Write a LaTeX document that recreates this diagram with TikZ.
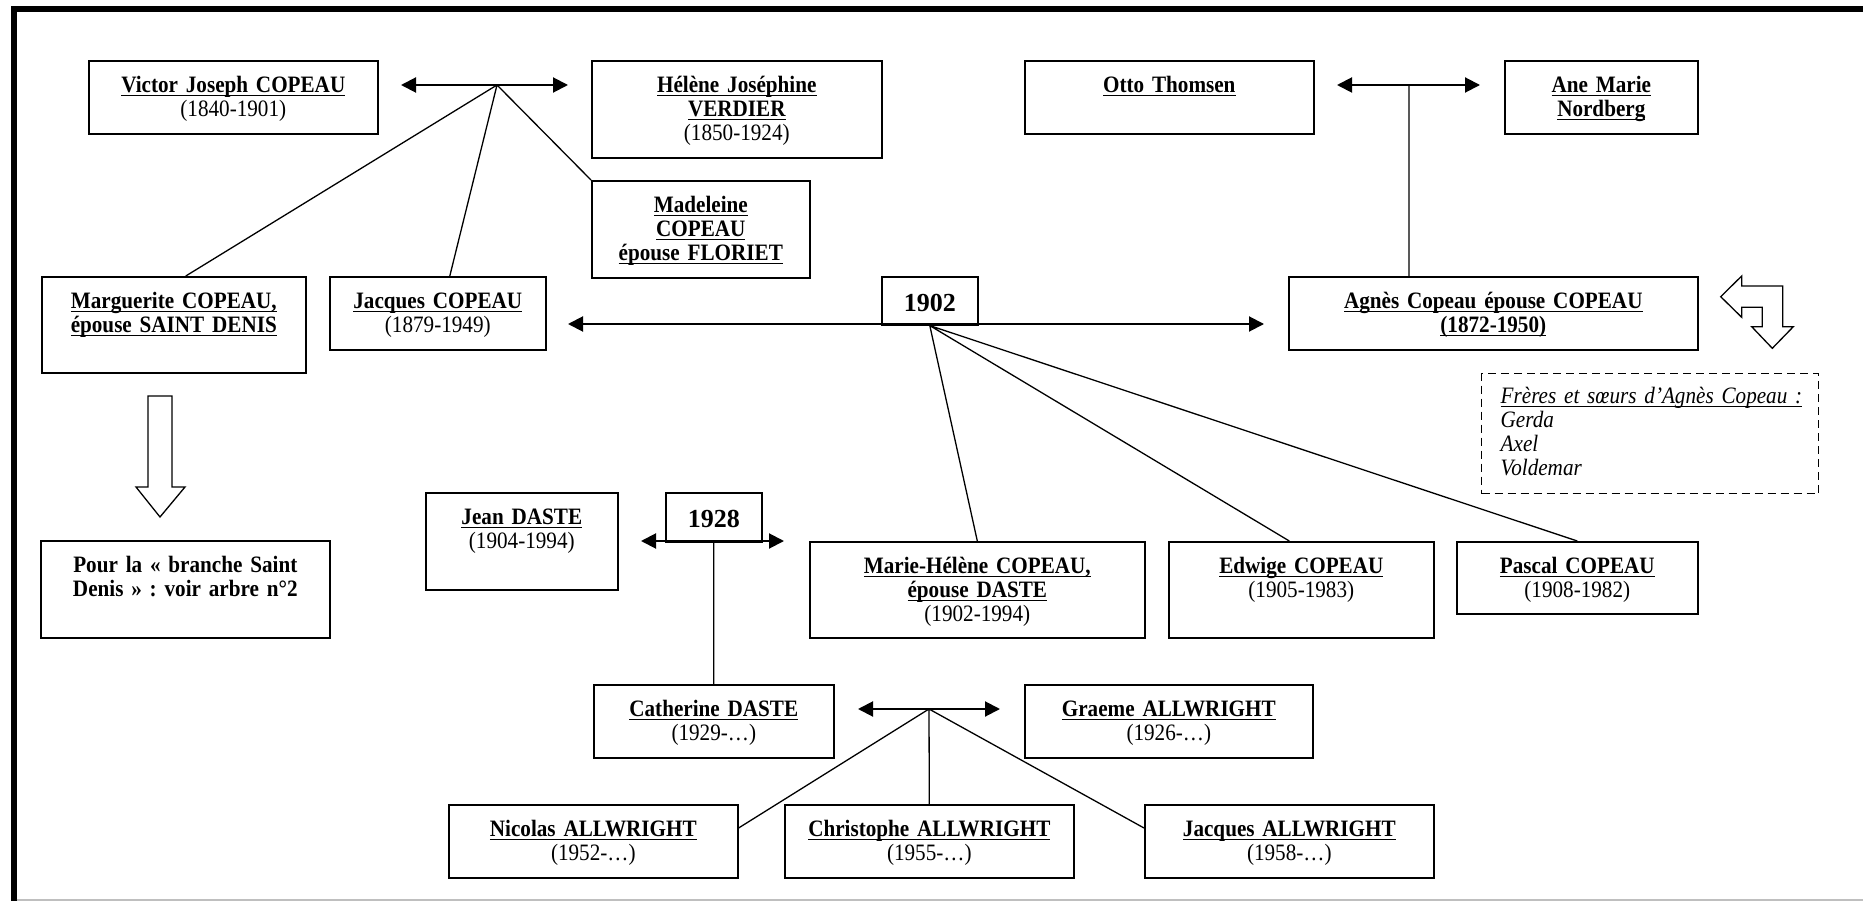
\documentclass[tikz,border=0pt]{standalone}
\usepackage{fontspec}
\setmainfont{Liberation Serif}[FakeStretch=0.9]
\newfontfamily\yearfont{Liberation Serif}
\usetikzlibrary{arrows.meta}
\frenchspacing
\newsavebox{\ulsave}
\newcommand{\ulfix}[1]{\sbox{\ulsave}{#1}\rlap{\rule[-3.6pt]{\wd\ulsave}{1.2pt}}\usebox{\ulsave}}
\newcommand{\nm}[1]{\textbf{\ulfix{#1}}}
\tikzset{
    pbox/.style 2 args={draw, line width=1.6pt, anchor=north west, inner sep=0pt,
        align=center, text width=#1pt, text height=32pt, text depth=#2pt-32pt,
        font=\fontsize{23.5}{24}\selectfont},
    ybox/.style={draw, line width=1.6pt, anchor=north west, inner sep=0pt,
        align=center, text width=96pt, text height=35pt, text depth=#1pt-35pt,
        font=\yearfont\bfseries\fontsize{26}{26}\selectfont},
    nbox/.style 2 args={draw, dash pattern=on 8pt off 5pt, line width=1.4pt, anchor=north west,
        inner xsep=19pt, inner ysep=0pt, align=left, text width=#1pt, text height=30pt,
        text depth=#2pt-30pt, font=\fontsize{23.5}{24}\selectfont\itshape},
    link/.style={line width=1.3pt},
    couple/.style={line width=2pt, {Triangle[length=15pt,width=15pt]}-{Triangle[length=15pt,width=15pt]}},
    bigarrow/.style={line width=1.3pt, line join=miter, fill=white},
}
\begin{document}
\begin{tikzpicture}[x=1pt, y=-1pt]
                                \useasboundingbox (0,0) rectangle (1863,901);
                                % frame
                                \draw[line width=6pt, line join=miter] (13.5,901) -- (13.5,9.5) -- (1863,9.5);
                                \draw[line width=1.5pt, gray!50] (16.5,900) -- (1863,900);
                                % people
                                \node[pbox={289}{73}] (victor) at (88,60) {\nm{Victor Joseph COPEAU}\\(1840-1901)};
                                \node[pbox={290}{97}] (helene) at (591,60) {\nm{Hélène Joséphine}\\\nm{VERDIER}\\(1850-1924)};
                                \node[pbox={218}{97}] (madeleine) at (591,180) {\nm{Madeleine}\\\nm{COPEAU}\\\nm{épouse FLORIET}};
                                \node[pbox={264}{96}] (marguerite) at (41,276) {\nm{Marguerite COPEAU,}\\\nm{épouse SAINT DENIS}};
                                \node[pbox={216}{73}] (jacques) at (329,276) {\nm{Jacques COPEAU}\\(1879-1949)};
                                \node[ybox=48] (m1902) at (881,276) {1902};
                                \node[pbox={409}{73}] (agnes) at (1288,276) {\nm{Agnès Copeau épouse COPEAU}\\\nm{(1872-1950)}};
                                \node[pbox={289}{73}] (otto) at (1024,60) {\nm{Otto Thomsen}};
                                \node[pbox={193}{73}] (anemarie) at (1504,60) {\nm{Ane Marie}\\\nm{Nordberg}};
                                \node[nbox={299}{120}] (freres) at (1481,373) {\ulfix{Frères et sœurs d’Agnès Copeau :}\\Gerda\\Axel\\Voldemar};
                                \node[pbox={289}{97}, font=\fontsize{23.5}{24}\selectfont\bfseries] (pour) at (40,540) {Pour la «~branche Saint\\Denis~» : voir arbre n°2};
                                \node[pbox={192}{97}] (jean) at (425,492) {\nm{Jean DASTE}\\(1904-1994)};
                                \node[ybox=49] (m1928) at (665,492) {1928};
                                \node[pbox={335}{96}] (mariehelene) at (809,541) {\nm{Marie-Hélène COPEAU,}\\\nm{épouse DASTE}\\(1902-1994)};
                                \node[pbox={265}{96}] (edwige) at (1168,541) {\nm{Edwige COPEAU}\\(1905-1983)};
                                \node[pbox={241}{72}] (pascal) at (1456,541) {\nm{Pascal COPEAU}\\(1908-1982)};
                                \node[pbox={240}{73}] (catherine) at (593,684) {\nm{Catherine DASTE}\\(1929-…)};
                                \node[pbox={288}{73}] (graeme) at (1024,684) {\nm{Graeme ALLWRIGHT}\\(1926-…)};
                                \node[pbox={289}{73}] (nicolas) at (448,804) {\nm{Nicolas ALLWRIGHT}\\(1952-…)};
                                \node[pbox={289}{73}] (christophe) at (784,804) {\nm{Christophe ALLWRIGHT}\\(1955-…)};
                                \node[pbox={289}{73}] (jacquesa) at (1144,804) {\nm{Jacques ALLWRIGHT}\\(1958-…)};
                                % marriage lines
                                \coordinate (vl) at (401,85);
                                \coordinate (vr) at (568,85);
                                \coordinate (vj) at (497,85);
                                \coordinate (ol) at (1337,85);
                                \coordinate (or) at (1480,85);
                                \coordinate (oj) at (1409,85);
                                \coordinate (ml) at (568,324);
                                \coordinate (mr) at (1264,324);
                                \coordinate (dl) at (641,541);
                                \coordinate (dr) at (784,541);
                                \coordinate (cl) at (858,709);
                                \coordinate (cr) at (1000,709);
                                \coordinate (cj) at (929,709);
                                \draw[couple] (vl) -- (vr);
                                \draw[couple] (ol) -- (or);
                                \draw[couple] (ml) -- (mr);
                                \draw[couple] (dl) -- (dr);
                                \draw[couple] (cl) -- (cr);
                                \draw[link]
                                (vj) -- ([xshift=12pt]marguerite.north)
                                (vj) -- ([xshift=12pt]jacques.north)
                                (vj) -- (madeleine.north west)
                                (oj) -- (oj |- agnes.north)
                                (m1902.south) -- (mariehelene.north)
                                (m1902.south) -- ([xshift=-12pt]edwige.north)
                                (m1902.south) -- (pascal.north)
                                (m1928.south) -- (catherine.north)
                                (cj) -- ([yshift=-24pt]nicolas.north east)
                                (cj) -- (christophe.north)
                                (cj) -- ([yshift=-24pt]jacquesa.north west);
                                % block arrows
                                \draw[bigarrow] (148,396) -- (172,396) -- (172,487) -- (185,487) -- (160,517)
                                -- (136,487) -- (148,487) -- cycle;
                                \draw[bigarrow] (1720.7,296.7) -- (1741.7,276) -- (1741.7,286) -- (1782.7,286)
                                -- (1782.7,326.7) -- (1793.3,326.7) -- (1772.3,348.3) -- (1751.7,326.7)
                                -- (1762.3,326.7) -- (1762.3,307.3) -- (1741.7,307.3) -- (1741.7,317.3) -- cycle;
                            \end{tikzpicture}
\end{document}
